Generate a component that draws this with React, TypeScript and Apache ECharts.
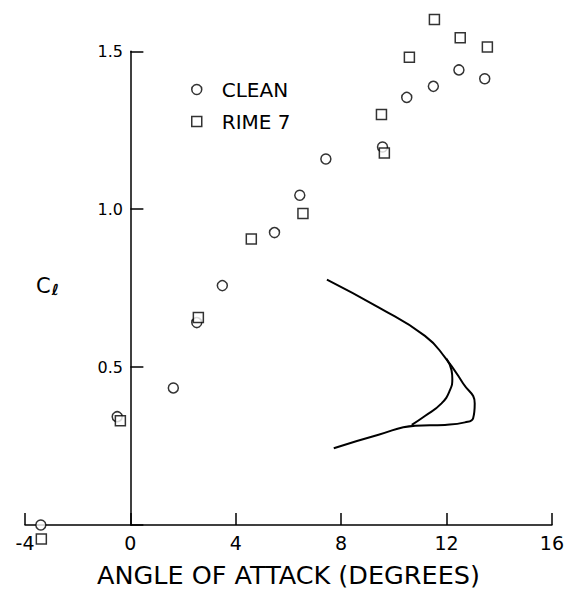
import React, { useEffect, useRef } from "react";
import * as echarts from "echarts";

const xTicks = [-4, 0, 4, 8, 12, 16];
const yTicks = [0.5, 1.0, 1.5];

const cleanAlpha = [-3.4, -0.5, 1.63, 2.52, 3.49, 5.47, 6.43, 7.42, 9.57, 10.49, 11.5, 12.47, 13.45];
const cleanCl = [0.0, 0.343, 0.434, 0.641, 0.758, 0.926, 1.044, 1.159, 1.197, 1.354, 1.389, 1.441, 1.413];

const rimeAlpha = [-3.38, -0.38, 2.58, 4.59, 6.55, 9.64, 9.53, 10.59, 11.54, 12.52, 13.55];
const rimeCl = [-0.044, 0.33, 0.657, 0.906, 0.986, 1.178, 1.3, 1.481, 1.601, 1.543, 1.514];

const curveAAlpha = [7.46, 9.42, 11.18, 11.94, 12.63, 13.07, 13.01, 12.7, 11.94, 10.81, 9.42, 7.72];
const curveACl = [0.777, 0.689, 0.599, 0.531, 0.448, 0.385, 0.338, 0.325, 0.317, 0.314, 0.286, 0.243];

const curveBAlpha = [12.0, 12.19, 12.22, 12.13, 11.81, 11.18, 10.68];
const curveBCl = [0.526, 0.49, 0.463, 0.427, 0.385, 0.345, 0.317];

const zip = (a: number[], b: number[]) => a.map((v, i) => [v, b[i]]);

const FONT = "DejaVu Sans";

export default function App() {
  const ref = useRef<HTMLDivElement>(null);
  useEffect(() => {
    document.body.style.margin = "0";
    document.body.style.overflow = "hidden";
    if (!ref.current) return;
    const chart = echarts.init(ref.current, undefined, { renderer: "svg" });
    const markerStyle = { color: "#fff", borderColor: "#000", borderWidth: 1.5 };
    chart.setOption({
      animation: false,
      backgroundColor: "#fff",
      grid: { left: 25, right: 13, top: 51.3, bottom: 63.7, containLabel: false },
      legend: {
        orient: "vertical",
        left: 186,
        top: 74.5,
        itemWidth: 10,
        itemHeight: 10,
        itemGap: 12,
        textStyle: { fontFamily: FONT, fontSize: 20, color: "#000", padding: [0, 0, 0, 15] },
        data: [
          { name: "CLEAN", icon: "circle", itemStyle: markerStyle },
          { name: "RIME 7", icon: "rect", itemStyle: markerStyle },
        ],
      },
      xAxis: {
        type: "value",
        min: -4,
        max: 16,
        interval: 4,
        name: "ANGLE OF ATTACK (DEGREES)",
        nameLocation: "middle",
        nameGap: 37,
        nameTextStyle: { fontFamily: FONT, fontSize: 25.5, color: "#000" },
        axisLine: { onZero: false, lineStyle: { color: "#000", width: 1.5 } },
        axisTick: { inside: true, length: 12, lineStyle: { color: "#000", width: 1.5 } },
        axisLabel: {
          fontFamily: FONT,
          fontSize: 19,
          color: "#000",
          margin: 8,
          formatter: (v: number) => (xTicks.includes(v) ? String(v) : ""),
        },
        splitLine: { show: false },
      },
      yAxis: {
        type: "value",
        min: 0,
        max: 1.5,
        interval: 0.5,
        axisLine: { onZero: true, lineStyle: { color: "#000", width: 1.5 } },
        axisTick: { inside: true, length: 13, lineStyle: { color: "#000", width: 1.5 } },
        axisLabel: {
          fontFamily: FONT,
          fontSize: 16,
          color: "#000",
          margin: -98,
          formatter: (v: number) => (yTicks.some((t) => Math.abs(t - v) < 1e-9) ? v.toFixed(1) : ""),
        },
        splitLine: { show: false },
      },
      graphic: [
        {
          type: "text",
          left: 36,
          top: 275,
          style: {
            text: "{c|C}{l|ℓ}",
            rich: {
              c: { fontFamily: FONT, fontSize: 21, fill: "#000" },
              l: { fontFamily: FONT, fontSize: 15, fontWeight: "bold", fontStyle: "italic", fill: "#000", padding: [8, 0, 0, 1] },
            },
          },
        },
      ],
      series: [
        {
          name: "curveA",
          type: "line",
          data: zip(curveAAlpha, curveACl),
          smooth: true,
          showSymbol: false,
          lineStyle: { color: "#000", width: 2 },
          silent: true,
        },
        {
          name: "curveB",
          type: "line",
          data: zip(curveBAlpha, curveBCl),
          smooth: true,
          showSymbol: false,
          lineStyle: { color: "#000", width: 2 },
          silent: true,
        },
        {
          name: "CLEAN",
          type: "scatter",
          symbol: "circle",
          symbolSize: 10,
          clip: false,
          itemStyle: markerStyle,
          data: zip(cleanAlpha, cleanCl),
        },
        {
          name: "RIME 7",
          type: "scatter",
          symbol: "rect",
          symbolSize: 10,
          clip: false,
          itemStyle: markerStyle,
          data: zip(rimeAlpha, rimeCl),
        },
      ],
    });
    return () => chart.dispose();
  }, []);
  return <div ref={ref} style={{ width: 567, height: 593 }} />;
}
